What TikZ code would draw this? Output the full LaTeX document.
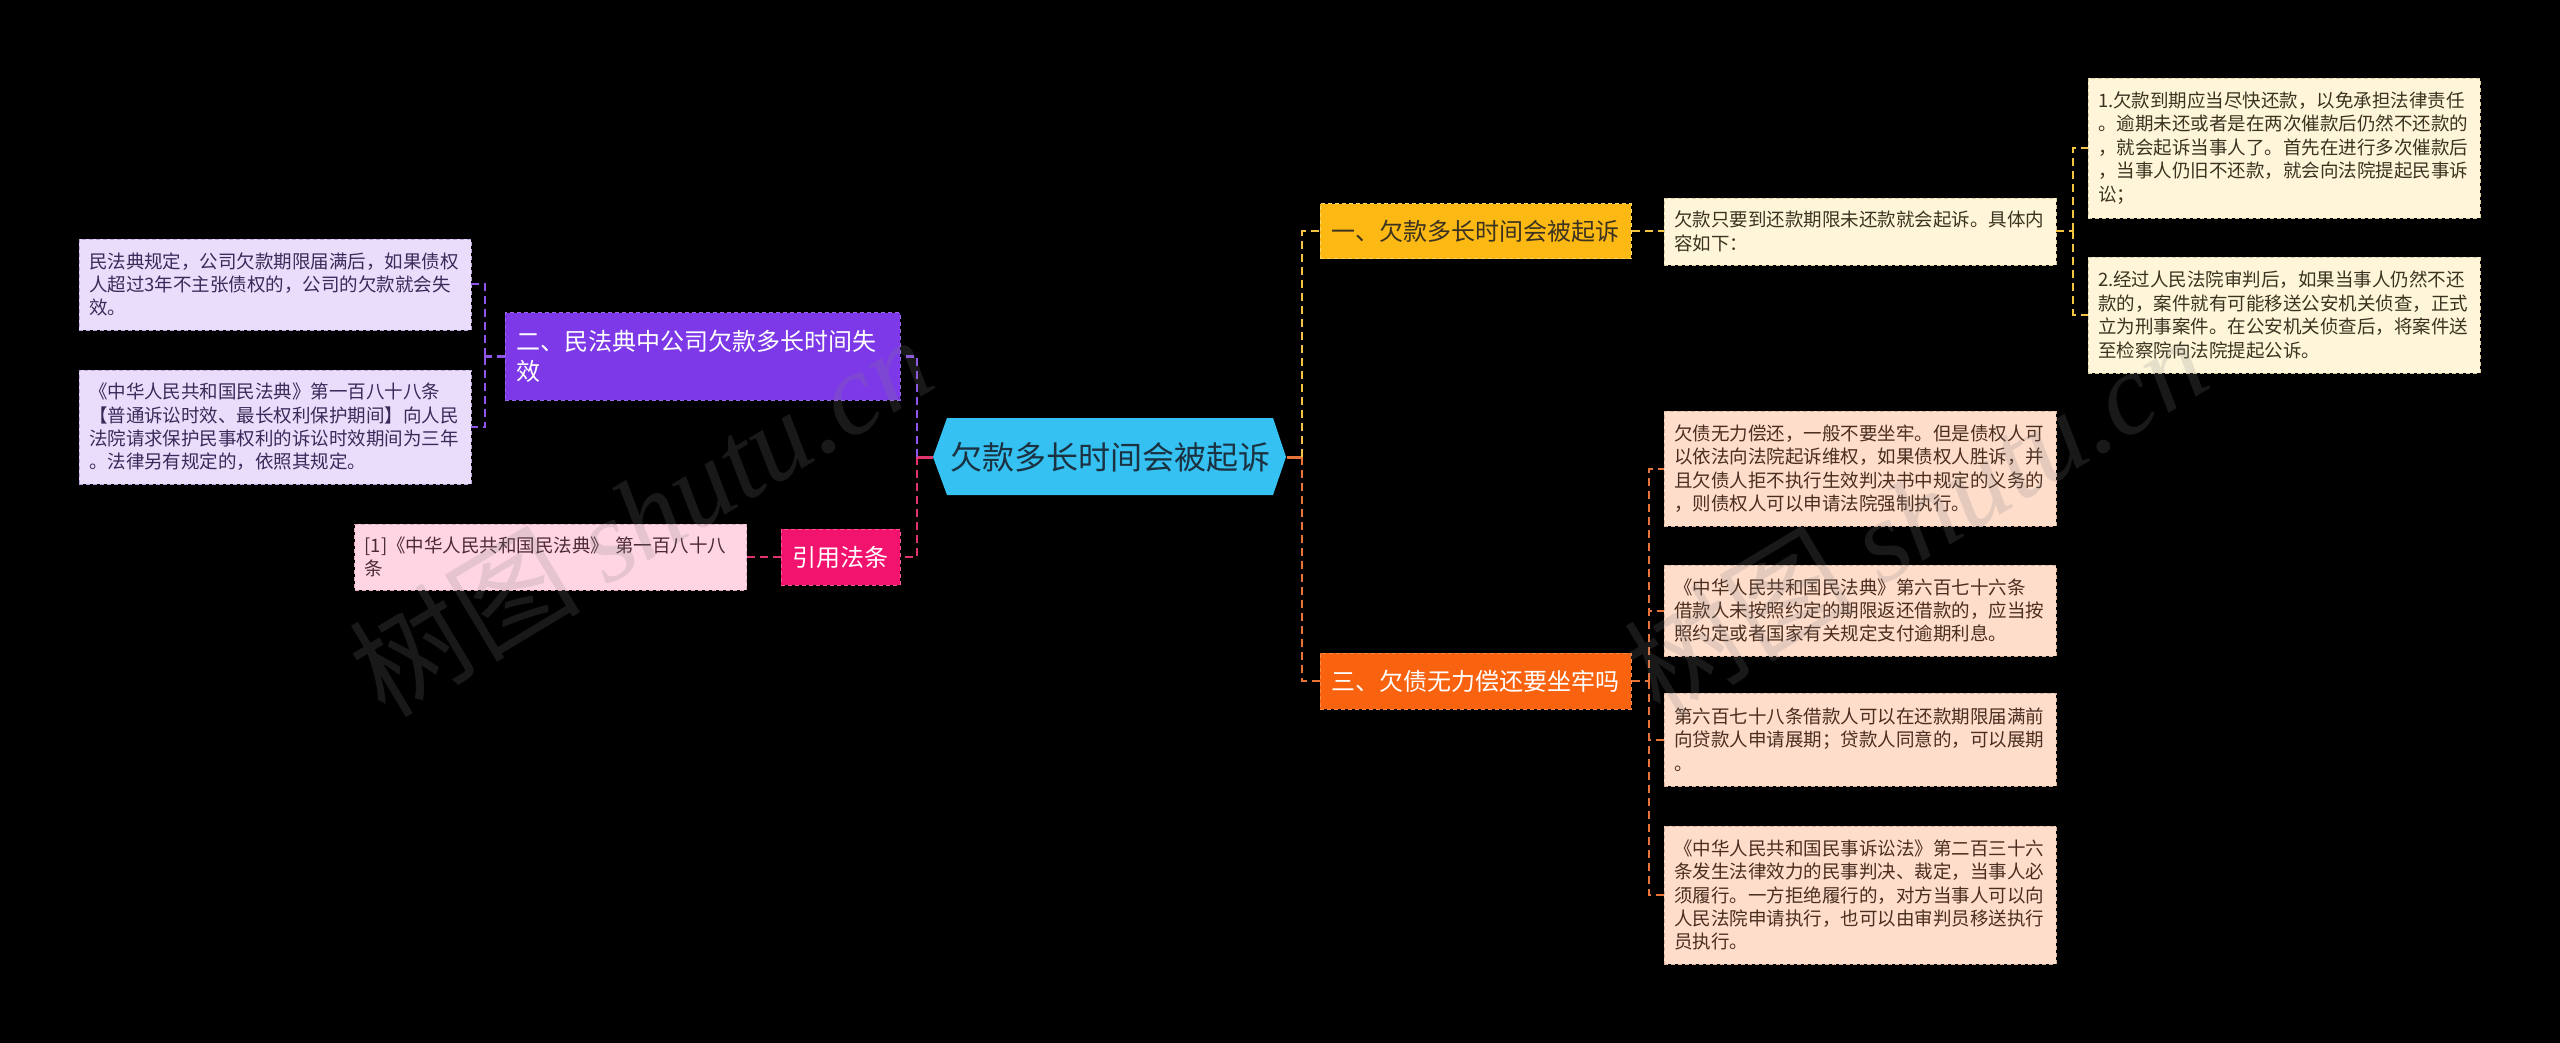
\documentclass[tikz,border=0pt]{standalone}
\usepackage{fontspec}
\setmainfont{Noto Sans CJK SC}
\newfontfamily\markfont{Liberation Serif}

\definecolor{hubblue}{HTML}{35C1F1}
\definecolor{hubink}{HTML}{1B3242}
\definecolor{yiorange}{HTML}{FDB913}
\definecolor{yiedge}{HTML}{FFD766}
\definecolor{yiink}{HTML}{3B3220}
\definecolor{yinote}{HTML}{FFF6DA}
\definecolor{yinoteedge}{HTML}{D8CC9E}
\definecolor{yiline}{HTML}{F5C342}
\definecolor{erpurple}{HTML}{7D39E8}
\definecolor{eredge}{HTML}{9A66F0}
\definecolor{erline}{HTML}{8F55EC}
\definecolor{ernote}{HTML}{E9DDFB}
\definecolor{ernoteedge}{HTML}{B9A5DC}
\definecolor{erink}{HTML}{3A2A5A}
\definecolor{citepink}{HTML}{F2136F}
\definecolor{citeedge}{HTML}{FF5A95}
\definecolor{citeline}{HTML}{E2346C}
\definecolor{citenote}{HTML}{FFD5E4}
\definecolor{citenoteedge}{HTML}{E0A8BC}
\definecolor{citeink}{HTML}{4A2A35}
\definecolor{sanorange}{HTML}{F9620F}
\definecolor{sanedge}{HTML}{FF8A4A}
\definecolor{sanline}{HTML}{E8743A}
\definecolor{sannote}{HTML}{FEDDCB}
\definecolor{sannoteedge}{HTML}{D9B29C}
\definecolor{sanink}{HTML}{4A2E20}

\begin{document}
\begin{tikzpicture}[x=0.5pt, y=-0.5pt,
    hubtext/.style={minimum width=176.5pt, minimum height=38.5pt, inner sep=0pt, text=hubink, font=\fontsize{16pt}{19pt}\selectfont},
    topic/.style={rectangle, minimum height=27.5pt, inner xsep=5.75pt, inner ysep=0pt, line width=0.5pt, dash pattern=on 2pt off 1.5pt, font=\fontsize{12pt}{15pt}\selectfont},
    note/.style={rectangle, text width=186pt, inner xsep=5pt, inner ysep=0pt, align=left, line width=0.4pt, dash pattern=on 2pt off 1.5pt, font=\fontsize{9.25pt}{11.7pt}\selectfont},
    yinotebox/.style={note, fill=yinote, draw=yinoteedge, text=yiink},
    ernotebox/.style={note, fill=ernote, draw=ernoteedge, text=erink},
    sannotebox/.style={note, fill=sannote, draw=sannoteedge, text=sanink},
    link/.style={line width=1pt, dash pattern=on 4pt off 2.5pt},
    stub/.style={line width=1.5pt},
    watermark/.style={rotate=31, text=gray, opacity=0.2, font=\fontsize{58pt}{58pt}\selectfont}]

    % Background
    \fill[black] (0,0) rectangle (2560,1043);

    % Centre topic
    \fill[hubblue] (933,457) -- (947,418) -- (1273,418) -- (1286,457) -- (1273,495) -- (947,495) -- cycle;
    \node[hubtext] (hub) at (1110,457) {欠款多长时间会被起诉};

    % Part one
    \node[topic, fill=yiorange, draw=yiedge, text=yiink] (yi) at (1475.5,231.5) {一、欠款多长时间会被起诉};
    \node[yinotebox, minimum height=33.5pt] (yiD) at (1860,231.5) {欠款只要到还款期限未还款就会起诉。具体内\\容如下：};
    \node[yinotebox, minimum height=70pt] (yiA) at (2284,148) {1.欠款到期应当尽快还款，以免承担法律责任\\。逾期未还或者是在两次催款后仍然不还款的\\，就会起诉当事人了。首先在进行多次催款后\\，当事人仍旧不还款，就会向法院提起民事诉\\讼；};
    \node[yinotebox, minimum height=58pt] (yiB) at (2284,315) {2.经过人民法院审判后，如果当事人仍然不还\\款的，案件就有可能移送公安机关侦查，正式\\立为刑事案件。在公安机关侦查后，将案件送\\至检察院向法院提起公诉。};

    % Part two
    \node[topic, fill=erpurple, draw=eredge, text=white, text width=186pt, align=left, minimum height=43.5pt] (er) at (702.5,356.5) {二、民法典中公司欠款多长时间失\\效};
    \node[ernotebox, minimum height=45.5pt] (erA) at (275,284.5) {民法典规定，公司欠款期限届满后，如果债权\\人超过3年不主张债权的，公司的欠款就会失\\效。};
    \node[ernotebox, minimum height=57pt] (erB) at (275,427) {《中华人民共和国民法典》第一百八十八条\\【普通诉讼时效、最长权利保护期间】向人民\\法院请求保护民事权利的诉讼时效期间为三年\\。法律另有规定的，依照其规定。};

    % Citation
    \node[topic, fill=citepink, draw=citeedge, text=white, minimum height=28pt] (yin) at (840.5,557) {引用法条};
    \node[note, fill=citenote, draw=citenoteedge, text=citeink, minimum height=33pt] (yinD) at (550.5,557) {[1]《中华人民共和国民法典》 第一百八十八\\条};

    % Part three
    \node[topic, fill=sanorange, draw=sanedge, text=white, minimum height=28pt] (san) at (1475.5,681) {三、欠债无力偿还要坐牢吗};
    \node[sannotebox, minimum height=57.5pt] (sanA) at (1860,468.5) {欠债无力偿还，一般不要坐牢。但是债权人可\\以依法向法院起诉维权，如果债权人胜诉，并\\且欠债人拒不执行生效判决书中规定的义务的\\，则债权人可以申请法院强制执行。};
    \node[sannotebox, minimum height=45.5pt] (sanB) at (1860,610.5) {《中华人民共和国民法典》第六百七十六条\\借款人未按照约定的期限返还借款的，应当按\\照约定或者国家有关规定支付逾期利息。};
    \node[sannotebox, minimum height=46.5pt] (sanC) at (1860,739.5) {第六百七十八条借款人可以在还款期限届满前\\向贷款人申请展期；贷款人同意的，可以展期\\。};
    \node[sannotebox, minimum height=69pt] (sanD) at (1860,895) {《中华人民共和国民事诉讼法》第二百三十六\\条发生法律效力的民事判决、裁定，当事人必\\须履行。一方拒绝履行的，对方当事人可以向\\人民法院申请执行，也可以由审判员移送执行\\员执行。};

    % Junctions
    \coordinate (hubL) at (917,457);
    \coordinate (hubR) at (1302,457);
    \coordinate (yiJ) at (2073,231.5);
    \coordinate (erJ) at (485,356.5);
    \coordinate (sanJ) at (1649,681);

    % Left connectors
    \draw[stub, citeline] (hub.west) -- (hubL);
    \draw[link, erline] (hubL) |- (er.east);
    \draw[link, citeline] (hubL) |- (yin.east);
    \draw[link, citeline] (yin.west) -- (yinD.east);
    \draw[link, erline] (er.west) -- (erJ);
    \draw[link, erline] (erJ) |- (erA.east);
    \draw[link, erline] (erJ) |- (erB.east);

    % Right connectors
    \draw[stub, sanline] (hub.east) -- (hubR);
    \draw[link, yiline] (hubR) |- (yi.west);
    \draw[link, sanline] (hubR) |- (san.west);
    \draw[link, yiline] (yi.east) -- (yiD.west);
    \draw[link, yiline] (yiD.east) -- (yiJ);
    \draw[link, yiline] (yiJ) |- (yiA.west);
    \draw[link, yiline] (yiJ) |- (yiB.west);
    \draw[link, sanline] (san.east) -- (sanJ);
    \draw[link, sanline] (sanJ) |- (sanA.west);
    \draw[link, sanline] (sanJ) |- (sanB.west);
    \draw[link, sanline] (sanJ) |- (sanC.west);
    \draw[link, sanline] (sanJ) |- (sanD.west);

    % Watermarks
    \node[watermark] (markL) at (640,515) {树图 {\markfont\itshape shutu.cn}};
    \node[watermark] (markR) at (1915,515) {树图 {\markfont\itshape shutu.cn}};
\end{tikzpicture}
\end{document}
